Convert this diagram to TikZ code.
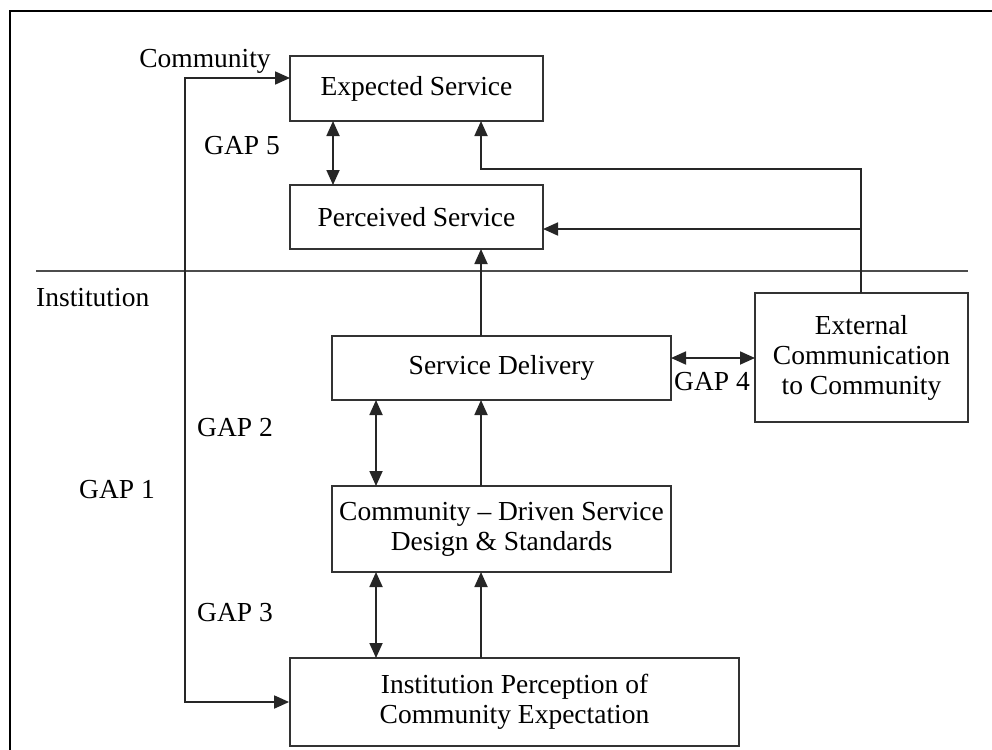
\documentclass[tikz,border=0pt]{standalone}
\usepackage{fontspec}
\setmainfont{Liberation Serif}
\usetikzlibrary{arrows.meta,calc}
\begin{document}
\begin{tikzpicture}[x=1pt,y=-1pt,
  box/.style={draw=black!80,line width=1.8pt,rectangle,inner sep=0pt,align=center,font=\fontsize{27.5}{30}\selectfont},
  lbl/.style={font=\fontsize{27.5}{30}\selectfont,inner sep=0pt},
  con/.style={draw=black!85,line width=1.8pt},
  tip/.tip={Triangle[length=15pt,width=13pt]},
  arr/.style={con,-tip},
  dbl/.style={con,tip-tip}]
\useasboundingbox (0,0) rectangle (992,749);
% outer frame
\draw[line width=2.6pt] (10,760) -- (10,11) -- (1000,11);
% separator
\draw[con,draw=black!70] (36,271) -- (968,271);
% boxes
\node[box,minimum width=253pt,minimum height=65pt] (exp) at (416.5,88.5) {Expected Service};
\node[box,minimum width=253pt,minimum height=64pt] (perc) at (416.5,217) {Perceived Service};
\node[box,minimum width=339pt,minimum height=64pt] (sd) at (501.5,368) {Service Delivery};
\node[box,minimum width=339pt,minimum height=86pt] (cd) at (501.5,529) {Community -- Driven Service\\Design \& Standards};
\node[box,minimum width=449pt,minimum height=88pt] (ip) at (514.5,702) {Institution Perception of\\Community Expectation};
\node[box,minimum width=213pt,minimum height=129pt] (ext) at (861.5,357.5) {External\\Communication\\to Community};
% labels
\node[lbl] (lcom) at (205,61) {Community};
\node[lbl,anchor=west] (linst) at (36,298) {Institution};
\node[lbl] (g5) at (242,146) {GAP 5};
\node[lbl] (g2) at (235,428) {GAP 2};
\node[lbl] (g3) at (235,613) {GAP 3};
\node[lbl] (g1) at (117,490) {GAP 1};
\node[lbl] (g4) at (712,382) {GAP 4};
% helper coordinates
\coordinate (gx) at (185,400);
\coordinate (x0) at (861,293);
\coordinate (k1) at (481,169);
\coordinate (k2) at (481,121);
\coordinate (p2) at (543,229);
\coordinate (p3) at (861,229);
\coordinate (e1) at (290,78);
\coordinate (g5a) at (333,121);
\coordinate (g5b) at (333,185);
\coordinate (s1) at (481,336);
\coordinate (s2) at (481,249);
\coordinate (g4a) at (671,358);
\coordinate (g4b) at (755,358);
\coordinate (g2a) at (376,400);
\coordinate (g2b) at (376,486);
\coordinate (c1) at (481,486);
\coordinate (c2) at (481,400);
\coordinate (g3a) at (376,572);
\coordinate (g3b) at (376,658);
\coordinate (i1) at (481,658);
\coordinate (i2) at (481,572);
% GAP 1
\draw[dbl] (e1) -| (gx) |- (ip.west);
% GAP 5
\draw[dbl] (g5a) -- (g5b);
% external communication to expected and perceived
\draw[arr] (x0) |- (k1) -- (k2);
\draw[arr] (p3) -- (p2);
% service delivery to perceived
\draw[arr] (s1) -- (s2);
% GAP 4
\draw[dbl] (g4a) -- (g4b);
% GAP 2
\draw[dbl] (g2a) -- (g2b);
\draw[arr] (c1) -- (c2);
% GAP 3
\draw[dbl] (g3a) -- (g3b);
\draw[arr] (i1) -- (i2);
\end{tikzpicture}
\end{document}
